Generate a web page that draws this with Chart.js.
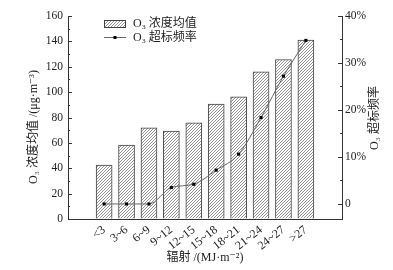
<!DOCTYPE html>
<html>
<head>
<meta charset="utf-8">
<script src="https://cdn.jsdelivr.net/npm/chart.js@4.4.1/dist/chart.umd.min.js"></script>
<style>
  html, body { margin: 0; padding: 0; background: #fff; }
  #wrap { width: 393px; height: 270px; }
</style>
</head>
<body>
<div id="wrap"><canvas id="chart" width="393" height="270"></canvas></div>
<script>
// radiation classes and the two O3 series
const categories = ['<3', '3~6', '6~9', '9~12', '12~15', '15~18', '18~21', '21~24', '24~27', '>27'];
const o3Mean = [42.5, 58.3, 71.9, 69.3, 75.8, 90.6, 96.3, 116, 125.7, 141];
const o3Exceed = [0, 0, 0, 3.5, 4.2, 7.2, 10.6, 18.4, 27.2, 34.8];
const leftTicks = [0, 20, 40, 60, 80, 100, 120, 140, 160];
const rightTicks = [0, 10, 20, 30, 40];

const FONT = '"Liberation Serif", "DejaVu Serif", "Noto Sans CJK SC", serif';
const AXIS = '#333';
const TEXT = '#222';

// hatch pattern for the bars
function hatch() {
  const c = document.createElement('canvas');
  c.width = 3;
  c.height = 3;
  const g = c.getContext('2d');
  g.fillStyle = '#fff';
  g.fillRect(0, 0, 3, 3);
  g.strokeStyle = '#7a7a7a';
  g.lineWidth = 0.8;
  g.beginPath();
  g.moveTo(0, 3); g.lineTo(3, 0);
  g.moveTo(-1, 1); g.lineTo(1, -1);
  g.moveTo(2, 4); g.lineTo(4, 2);
  g.stroke();
  return g.createPattern(c, 'repeat');
}
const pattern = hatch();

// inward major/minor ticks on both y axes
const tickMarks = {
  id: 'tickMarks',
  afterDraw(chart) {
    const ctx = chart.ctx;
    const y = chart.scales.y, y1 = chart.scales.y1;
    const area = chart.chartArea;
    ctx.save();
    ctx.strokeStyle = AXIS;
    ctx.lineWidth = 1;
    ctx.beginPath();
    for (let v = 0; v <= 160; v += 10) {
      const p = Math.round(y.getPixelForValue(v)) + 0.5;
      const len = v % 20 === 0 ? 4 : 2;
      ctx.moveTo(area.left, p); ctx.lineTo(area.left + len, p);
    }
    for (let v = 0; v <= 40; v += 5) {
      const p = Math.round(y1.getPixelForValue(v)) + 0.5;
      const len = v % 10 === 0 ? 4 : 2;
      ctx.moveTo(area.right, p); ctx.lineTo(area.right - len, p);
    }
    ctx.stroke();
    ctx.restore();
  }
};

// both y titles read bottom to top
function vText(ctx, text, x, y) {
  ctx.save();
  ctx.translate(x, y);
  ctx.rotate(-Math.PI / 2);
  ctx.font = '12px ' + FONT;
  ctx.fillStyle = TEXT;
  ctx.textAlign = 'center';
  ctx.textBaseline = 'middle';
  ctx.fillText(text, 0, 0);
  ctx.restore();
}
const axisTitles = {
  id: 'axisTitles',
  afterDraw(chart) {
    vText(chart.ctx, 'O₃ 浓度均值 /(μg·m⁻³)', 34, 127);
    vText(chart.ctx, 'O₃ 超标频率', 375, 118);
  }
};

// legend drawn inside the plot
const legendBox = {
  id: 'legendBox',
  afterDraw(chart) {
    const ctx = chart.ctx;
    const ds = chart.data.datasets;
    const x = 104, tx = 133;
    ctx.save();
    ctx.font = '12px ' + FONT;
    ctx.textBaseline = 'middle';

    const bar = ds[1];
    ctx.fillStyle = pattern;
    ctx.fillRect(x, 20, 22, 8);
    ctx.strokeStyle = '#444';
    ctx.lineWidth = 1;
    ctx.strokeRect(x + 0.5, 20.5, 21, 7);
    ctx.fillStyle = TEXT;
    ctx.fillText(bar.label, tx, 24);

    const line = ds[0];
    ctx.strokeStyle = line.borderColor;
    ctx.beginPath();
    ctx.moveTo(x, 37.5); ctx.lineTo(x + 22, 37.5);
    ctx.stroke();
    ctx.fillStyle = '#000';
    ctx.fillRect(x + 9.5, 36, 3, 3);
    ctx.fillStyle = TEXT;
    ctx.fillText(line.label, tx, 38);
    ctx.restore();
  }
};

const ctx = document.getElementById('chart').getContext('2d');
new Chart(ctx, {
  type: 'bar',
  data: {
    datasets: [
      {
        type: 'line',
        label: 'O₃ 超标频率',
        data: o3Exceed.map((v, i) => ({ x: i, y: v })),
        yAxisID: 'y1',
        borderColor: '#666',
        borderWidth: 1,
        pointStyle: 'rect',
        pointRadius: 2.2,
        pointBorderWidth: 0,
        pointBackgroundColor: '#000',
        cubicInterpolationMode: 'monotone',
        order: 0
      },
      {
        type: 'bar',
        label: 'O₃ 浓度均值',
        data: o3Mean.map((v, i) => ({ x: i, y: v })),
        yAxisID: 'y',
        backgroundColor: pattern,
        borderColor: '#444',
        borderWidth: 1,
        barThickness: 16,
        order: 1
      }
    ]
  },
  options: {
    responsive: false,
    animation: false,
    devicePixelRatio: 1,
    layout: { padding: { top: 16, left: 0, right: 0, bottom: 0 } },
    plugins: {
      legend: { display: false },
      tooltip: { enabled: false }
    },
    scales: {
      x: {
        type: 'linear',
        min: -1,
        max: 10,
        afterBuildTicks(scale) {
          scale.ticks = categories.map((c, i) => ({ value: i }));
        },
        afterFit(scale) { scale.height = 51; },
        grid: { display: true, drawOnChartArea: false, drawTicks: false },
        border: { display: true, color: AXIS, width: 1 },
        ticks: {
          autoSkip: false,
          minRotation: 38,
          maxRotation: 38,
          padding: 4,
          color: TEXT,
          font: { family: FONT, size: 12 },
          callback: (v) => categories[v]
        },
        title: {
          display: true,
          text: '辐射 /(MJ·m⁻²)',
          color: TEXT,
          font: { family: FONT, size: 12 },
          padding: { top: 0, bottom: 5 }
        }
      },
      y: {
        position: 'left',
        min: 0,
        max: 160,
        afterBuildTicks(scale) {
          scale.ticks = leftTicks.map((v) => ({ value: v }));
        },
        afterFit(scale) { scale.width = 68; },
        grid: { display: true, drawOnChartArea: false, drawTicks: false },
        border: { display: true, color: AXIS, width: 1 },
        ticks: {
          padding: 5,
          color: TEXT,
          font: { family: FONT, size: 11.5 }
        }
      },
      y1: {
        position: 'right',
        min: -3.2,
        max: 40,
        afterBuildTicks(scale) {
          scale.ticks = rightTicks.map((v) => ({ value: v }));
        },
        afterFit(scale) { scale.width = 51; },
        grid: { display: true, drawOnChartArea: false, drawTicks: false },
        border: { display: true, color: AXIS, width: 1 },
        ticks: {
          padding: 3,
          color: TEXT,
          font: { family: FONT, size: 11.5 },
          callback: (v) => (v === 0 ? '0' : v + '%')
        }
      }
    }
  },
  plugins: [tickMarks, axisTitles, legendBox]
});
</script>
</body>
</html>
